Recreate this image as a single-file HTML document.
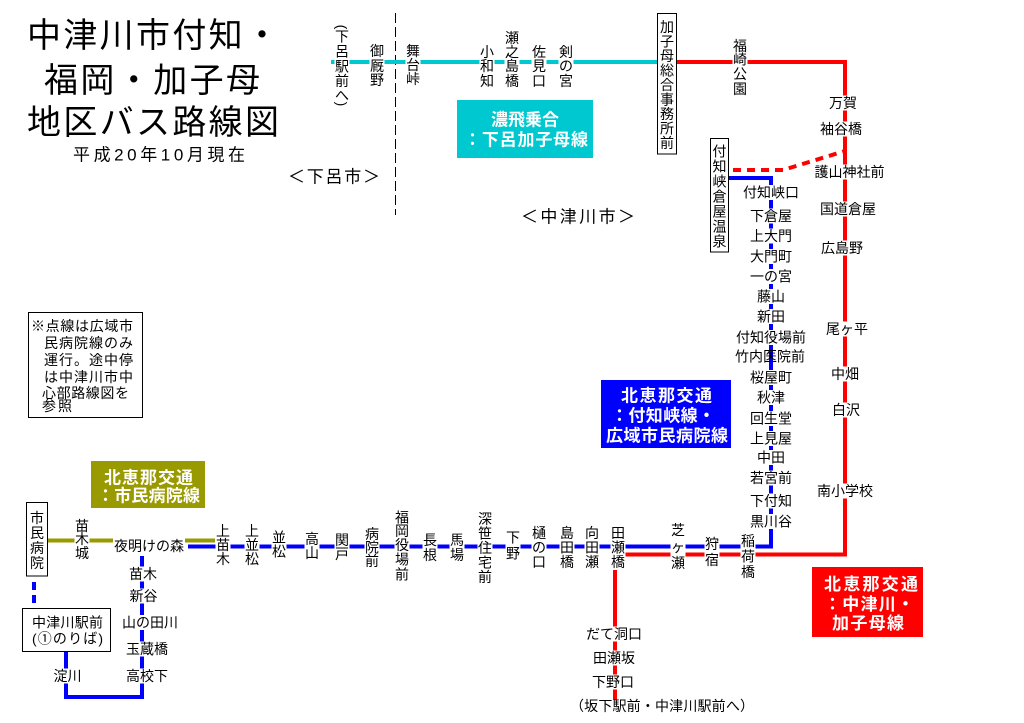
<!DOCTYPE html>
<html><head><meta charset="utf-8">
<style>
html,body{margin:0;padding:0;background:#fff;}
svg{display:block;}
text{font-family:"Liberation Sans","Noto Sans CJK JP",sans-serif;font-size:14px;fill:#000;}
.m{text-anchor:middle;}
.w{fill:#fff;font-weight:bold;font-size:17px;}
</style></head>
<body>
<svg width="1024" height="723" viewBox="0 0 1024 723" xmlns="http://www.w3.org/2000/svg">
<rect width="1024" height="723" fill="#fff"/>

<!-- Title -->
<text x="27" y="47" style="font-size:34px" textLength="252" lengthAdjust="spacing">中津川市付知・</text>
<text x="44" y="92" style="font-size:34px" textLength="216" lengthAdjust="spacing">福岡・加子母</text>
<text x="27" y="134" style="font-size:34px" textLength="252" lengthAdjust="spacing">地区バス路線図</text>
<text x="73" y="160.5" style="font-size:17px" textLength="172" lengthAdjust="spacing">平成20年10月現在</text>
<text x="288" y="182.5" style="font-size:17px" textLength="92" lengthAdjust="spacing">＜下呂市＞</text>
<text x="521" y="222.5" style="font-size:17px" textLength="114" lengthAdjust="spacing">＜中津川市＞</text>

<!-- divider -->
<line x1="395.5" y1="13" x2="395.5" y2="215" stroke="#000" stroke-width="1" stroke-dasharray="10 4"/>

<!-- Lines -->
<line x1="331" y1="62" x2="657" y2="62" stroke="#00c8d0" stroke-width="4"/>
<polyline points="615,700 615,554.5 845,554.5 845,62 676,62" fill="none" stroke="#ff0000" stroke-width="4"/>
<polyline points="733,170 783,170 845,151" fill="none" stroke="#ff0000" stroke-width="4" stroke-dasharray="8 6"/>
<polyline points="729,178 771,178 771,546.5 188,546.5" fill="none" stroke="#0000ff" stroke-width="4"/>
<polyline points="142,556 142,697 66,697 66,652" fill="none" stroke="#0000ff" stroke-width="4"/>
<line x1="34" y1="582" x2="34" y2="608" stroke="#0000ff" stroke-width="4" stroke-dasharray="8 5"/>
<line x1="47" y1="540.5" x2="215" y2="540.5" stroke="#999900" stroke-width="4"/>

<!-- label backgrounds -->
<g fill="#fff">
<rect x="334.5" y="20" width="15" height="90"/>
<rect x="369.5" y="43" width="15" height="45"/>
<rect x="405.5" y="43" width="15" height="44"/>
<rect x="479.5" y="44" width="15" height="45"/>
<rect x="504.5" y="30" width="15" height="59"/>
<rect x="531.5" y="44" width="15" height="45"/>
<rect x="558.5" y="44" width="15" height="45"/>
<rect x="732.5" y="39" width="15" height="58"/>
<!-- red column -->
<rect x="828" y="95.5" width="30" height="15"/>
<rect x="819" y="121.5" width="44" height="15"/>
<rect x="813.5" y="164.5" width="72" height="15"/>
<rect x="819" y="201.5" width="58" height="15"/>
<rect x="820" y="240.5" width="44" height="15"/>
<rect x="825" y="321.5" width="44" height="15"/>
<rect x="830" y="366.5" width="30" height="15"/>
<rect x="831" y="402.5" width="30" height="15"/>
<rect x="816" y="483.5" width="58" height="15"/>
<!-- blue column -->
<rect x="742" y="185" width="58" height="15"/>
<rect x="749" y="208.5" width="44" height="15"/>
<rect x="749" y="228.5" width="44" height="15"/>
<rect x="749" y="249" width="44" height="15"/>
<rect x="749" y="269" width="44" height="15"/>
<rect x="756" y="289" width="30" height="15"/>
<rect x="756" y="309" width="30" height="15"/>
<rect x="735" y="330" width="72" height="15"/>
<rect x="749" y="370" width="44" height="15"/>
<rect x="756" y="390" width="30" height="15"/>
<rect x="749" y="411" width="44" height="15"/>
<rect x="749" y="431" width="44" height="15"/>
<rect x="756" y="450" width="30" height="15"/>
<rect x="749" y="470.5" width="44" height="15"/>
<rect x="749" y="493.5" width="44" height="15"/>
<rect x="749" y="514" width="44" height="15"/>
<!-- bottom row -->
<rect x="74.5" y="518" width="15" height="43"/>
<rect x="113" y="538.5" width="72" height="15"/>
<rect x="215.5" y="523" width="15" height="44"/>
<rect x="244.5" y="523" width="15" height="44"/>
<rect x="271.5" y="530" width="15" height="29"/>
<rect x="304.5" y="531" width="15" height="30"/>
<rect x="334.5" y="532" width="15" height="30"/>
<rect x="364.5" y="526" width="15" height="43"/>
<rect x="394.5" y="510" width="15" height="72"/>
<rect x="422.5" y="532" width="15" height="30"/>
<rect x="449.5" y="532" width="15" height="30"/>
<rect x="477.5" y="511" width="15" height="73"/>
<rect x="505.5" y="530" width="15" height="31"/>
<rect x="531.5" y="525" width="15" height="44"/>
<rect x="559.5" y="525" width="15" height="44"/>
<rect x="584.5" y="525" width="15" height="44"/>
<rect x="610.5" y="525" width="15" height="45"/>
<rect x="670.5" y="522" width="15" height="49"/>
<rect x="704.5" y="536" width="15" height="32"/>
<rect x="740.5" y="533" width="15" height="47"/>
<!-- lower branches -->
<rect x="128" y="566.5" width="30" height="15"/>
<rect x="128.5" y="588.5" width="30" height="15"/>
<rect x="121" y="615" width="58" height="15"/>
<rect x="125" y="641.5" width="44" height="15"/>
<rect x="125" y="668.5" width="44" height="15"/>
<rect x="52.5" y="668.5" width="30" height="15"/>
<rect x="585" y="626.5" width="58" height="15"/>
<rect x="592" y="650.5" width="44" height="15"/>
<rect x="591" y="674.5" width="44" height="15"/>
</g>

<!-- Top row vertical labels -->
<text x="342" y="27" class="m" dominant-baseline="central" transform="rotate(90 342 27)">(</text>
<text class="m"><tspan x="342" y="41.5">下</tspan><tspan x="342" y="56.5">呂</tspan><tspan x="342" y="71.5">駅</tspan><tspan x="342" y="86">前</tspan><tspan x="342" y="100.5">へ</tspan></text>
<text x="342" y="104" class="m" dominant-baseline="central" transform="rotate(90 342 104)">)</text>
<text class="m"><tspan x="377" y="56">御</tspan><tspan x="377" y="71">厩</tspan><tspan x="377" y="85">野</tspan></text>
<text class="m"><tspan x="413" y="56">舞</tspan><tspan x="413" y="70">台</tspan><tspan x="413" y="84">峠</tspan></text>
<text class="m"><tspan x="487" y="57">小</tspan><tspan x="487" y="71">和</tspan><tspan x="487" y="86">知</tspan></text>
<text class="m"><tspan x="512" y="43">瀬</tspan><tspan x="512" y="57">之</tspan><tspan x="512" y="71">島</tspan><tspan x="512" y="86">橋</tspan></text>
<text class="m"><tspan x="539" y="57">佐</tspan><tspan x="539" y="71">見</tspan><tspan x="539" y="86">口</tspan></text>
<text class="m"><tspan x="566" y="57">剣</tspan><tspan x="566" y="71">の</tspan><tspan x="566" y="86">宮</tspan></text>
<text class="m"><tspan x="740" y="51">福</tspan><tspan x="740" y="64.5">崎</tspan><tspan x="740" y="79">公</tspan><tspan x="740" y="94">園</tspan></text>

<!-- Cyan box -->
<rect x="457" y="100" width="136" height="58" fill="#00c8d0"/>
<text x="491" y="125.5" class="w" textLength="68" lengthAdjust="spacing">濃飛乗合</text>
<text x="464" y="145.5" class="w" textLength="124" lengthAdjust="spacing">：下呂加子母線</text>

<!-- 加子母総合事務所前 box -->
<rect x="657.5" y="13.5" width="19" height="140.5" fill="#fff" stroke="#000" stroke-width="1"/>
<text class="m"><tspan x="667" y="32">加</tspan><tspan x="667" y="46.5">子</tspan><tspan x="667" y="61">母</tspan><tspan x="667" y="75.5">総</tspan><tspan x="667" y="90">合</tspan><tspan x="667" y="104.5">事</tspan><tspan x="667" y="119">務</tspan><tspan x="667" y="133.5">所</tspan><tspan x="667" y="148">前</tspan></text>

<!-- 付知峡倉屋温泉 box -->
<rect x="710.5" y="138.5" width="18" height="113.5" fill="#fff" stroke="#000" stroke-width="1"/>
<text class="m"><tspan x="719.5" y="156.5">付</tspan><tspan x="719.5" y="171.5">知</tspan><tspan x="719.5" y="186.5">峡</tspan><tspan x="719.5" y="201.5">倉</tspan><tspan x="719.5" y="216.5">屋</tspan><tspan x="719.5" y="231.5">温</tspan><tspan x="719.5" y="246.5">泉</tspan></text>

<!-- Red column labels -->
<text x="843" y="108" class="m">万賀</text>
<text x="841" y="134" class="m">袖谷橋</text>
<text x="849.5" y="177" class="m">護山神社前</text>
<text x="848" y="214" class="m">国道倉屋</text>
<text x="842" y="253" class="m">広島野</text>
<text x="847" y="334" class="m">尾ヶ平</text>
<text x="845" y="379" class="m">中畑</text>
<text x="846" y="415" class="m">白沢</text>
<text x="845" y="496" class="m">南小学校</text>

<!-- Blue column labels -->
<text x="771" y="197.5" class="m">付知峡口</text>
<text x="771" y="221" class="m">下倉屋</text>
<text x="771" y="241" class="m">上大門</text>
<text x="771" y="261.5" class="m">大門町</text>
<text x="771" y="281.5" class="m">一の宮</text>
<text x="771" y="301.5" class="m">藤山</text>
<text x="771" y="321.5" class="m">新田</text>
<text x="771" y="342.5" class="m">付知役場前</text>
<text x="770" y="361.5" class="m">竹内医院前</text>
<text x="771" y="382.5" class="m">桜屋町</text>
<text x="771" y="402.5" class="m">秋津</text>
<text x="771" y="423.5" class="m">回生堂</text>
<text x="771" y="443.5" class="m">上見屋</text>
<text x="771" y="462.5" class="m">中田</text>
<text x="771" y="483" class="m">若宮前</text>
<text x="771" y="506" class="m">下付知</text>
<text x="771" y="526.5" class="m">黒川谷</text>

<!-- Note box -->
<rect x="28.5" y="312.5" width="114" height="105" fill="#fff" stroke="#000" stroke-width="1"/>
<text x="31" y="331" textLength="102" lengthAdjust="spacing">※点線は広域市</text>
<text x="44" y="348" textLength="89" lengthAdjust="spacing">民病院線のみ</text>
<text x="44" y="365" textLength="89" lengthAdjust="spacing">運行。途中停</text>
<text x="44" y="382" textLength="89" lengthAdjust="spacing">は中津川市中</text>
<text x="42" y="398" textLength="87" lengthAdjust="spacing">心部路線図を</text>
<text x="42" y="411" textLength="30" lengthAdjust="spacing">参照</text>

<!-- Blue box -->
<rect x="601" y="380" width="130" height="68" fill="#0000ff"/>
<text x="621" y="401.5" class="w" textLength="91" lengthAdjust="spacing">北恵那交通</text>
<text x="611" y="421.5" class="w" textLength="104" lengthAdjust="spacing">：付知峡線・</text>
<text x="606" y="441.5" class="w" textLength="122" lengthAdjust="spacing">広域市民病院線</text>

<!-- Olive box -->
<rect x="91" y="461" width="114" height="47" fill="#999900"/>
<text x="104" y="483.5" class="w" textLength="89" lengthAdjust="spacing">北恵那交通</text>
<text x="97" y="501.5" class="w" textLength="103" lengthAdjust="spacing">：市民病院線</text>

<!-- Red box -->
<rect x="812" y="567" width="111" height="70" fill="#ff0000"/>
<text x="824" y="590" class="w" textLength="94" lengthAdjust="spacing">北恵那交通</text>
<text x="824" y="610" class="w" textLength="90" lengthAdjust="spacing">：中津川・</text>
<text x="832" y="629" class="w" textLength="72" lengthAdjust="spacing">加子母線</text>

<!-- 市民病院 box -->
<rect x="26.5" y="502.5" width="21" height="73.5" fill="#fff" stroke="#000" stroke-width="1"/>
<text class="m"><tspan x="37" y="523">市</tspan><tspan x="37" y="538">民</tspan><tspan x="37" y="553">病</tspan><tspan x="37" y="568">院</tspan></text>

<!-- 中津川駅前 box -->
<rect x="22.5" y="608.5" width="88" height="43" fill="#fff" stroke="#000" stroke-width="1"/>
<text x="32" y="627.5" textLength="71" lengthAdjust="spacing">中津川駅前</text>
<text x="32" y="643.5" textLength="71" lengthAdjust="spacing">(①のりば)</text>

<!-- bottom row labels -->
<text class="m"><tspan x="82" y="531">苗</tspan><tspan x="82" y="544">木</tspan><tspan x="82" y="558">城</tspan></text>
<text x="149" y="551" class="m">夜明けの森</text>
<text class="m"><tspan x="223" y="536">上</tspan><tspan x="223" y="550">苗</tspan><tspan x="223" y="564">木</tspan></text>
<text class="m"><tspan x="252" y="536">上</tspan><tspan x="252" y="550">並</tspan><tspan x="252" y="564">松</tspan></text>
<text class="m"><tspan x="279" y="542.5">並</tspan><tspan x="279" y="556.5">松</tspan></text>
<text class="m"><tspan x="312" y="544">高</tspan><tspan x="312" y="558">山</tspan></text>
<text class="m"><tspan x="342" y="545">関</tspan><tspan x="342" y="559">戸</tspan></text>
<text class="m"><tspan x="372" y="539">病</tspan><tspan x="372" y="552.5">院</tspan><tspan x="372" y="566">前</tspan></text>
<text class="m"><tspan x="402" y="522.5">福</tspan><tspan x="402" y="536">岡</tspan><tspan x="402" y="550">役</tspan><tspan x="402" y="564.5">場</tspan><tspan x="402" y="579.5">前</tspan></text>
<text class="m"><tspan x="430" y="545">長</tspan><tspan x="430" y="560">根</tspan></text>
<text class="m"><tspan x="457" y="545">馬</tspan><tspan x="457" y="560">場</tspan></text>
<text class="m"><tspan x="485" y="524">深</tspan><tspan x="485" y="538.5">笹</tspan><tspan x="485" y="553">住</tspan><tspan x="485" y="567.5">宅</tspan><tspan x="485" y="582">前</tspan></text>
<text class="m"><tspan x="513" y="542.5">下</tspan><tspan x="513" y="558.5">野</tspan></text>
<text class="m"><tspan x="539" y="538">樋</tspan><tspan x="539" y="552.5">の</tspan><tspan x="539" y="567">口</tspan></text>
<text class="m"><tspan x="567" y="538">島</tspan><tspan x="567" y="552.5">田</tspan><tspan x="567" y="567">橋</tspan></text>
<text class="m"><tspan x="592" y="538">向</tspan><tspan x="592" y="552.5">田</tspan><tspan x="592" y="567">瀬</tspan></text>
<text class="m"><tspan x="618" y="538">田</tspan><tspan x="618" y="552.5">瀬</tspan><tspan x="618" y="567">橋</tspan></text>
<text class="m"><tspan x="678" y="535">芝</tspan><tspan x="678" y="552">ヶ</tspan><tspan x="678" y="568">瀬</tspan></text>
<text class="m"><tspan x="712" y="549">狩</tspan><tspan x="712" y="565">宿</tspan></text>
<text class="m"><tspan x="748" y="546">稲</tspan><tspan x="748" y="561.5">荷</tspan><tspan x="748" y="577">橋</tspan></text>

<!-- lower-left branch labels -->
<text x="143" y="579" class="m">苗木</text>
<text x="143.5" y="601" class="m">新谷</text>
<text x="150" y="627.5" class="m">山の田川</text>
<text x="147" y="654" class="m">玉蔵橋</text>
<text x="147" y="681" class="m">高校下</text>
<text x="67.5" y="681" class="m">淀川</text>

<!-- lower red branch labels -->
<text x="614" y="639" class="m">だて洞口</text>
<text x="614" y="663" class="m">田瀬坂</text>
<text x="613" y="687" class="m">下野口</text>
<text x="570" y="711" textLength="184" lengthAdjust="spacing">（坂下駅前・中津川駅前へ）</text>
</svg>
</body></html>
